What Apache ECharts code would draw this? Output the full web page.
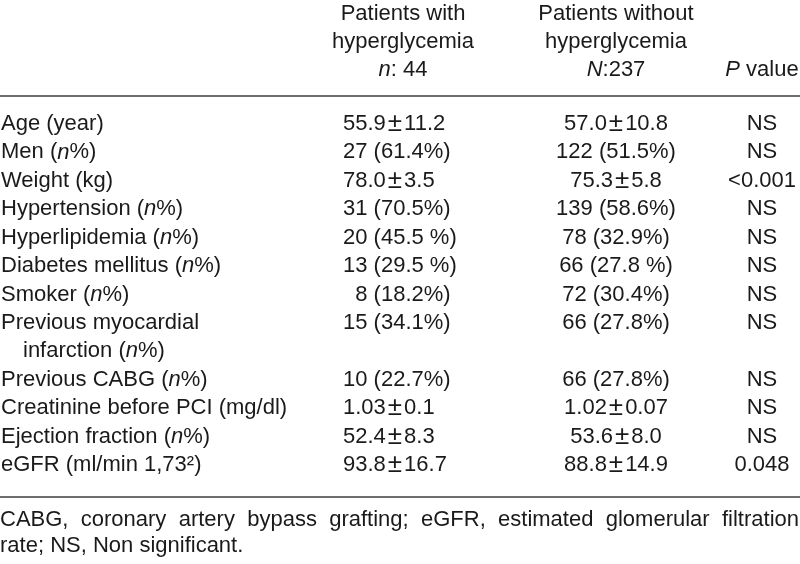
<!DOCTYPE html>
<html><head><meta charset="utf-8">
<script src="https://cdn.jsdelivr.net/npm/echarts@6/dist/echarts.min.js"></script>
<style>html,body{margin:0;padding:0;background:#fff}#c{width:800px;height:564px}</style>
</head><body><div id="c"></div>
<script>
// ---- data ----
const rowLabels = ['Age (year)', 'Men (n%)', 'Weight (kg)', 'Hypertension (n%)', 'Hyperlipidemia (n%)',
  'Diabetes mellitus (n%)', 'Smoker (n%)', 'Previous myocardial', 'infarction (n%)', 'Previous CABG (n%)',
  'Creatinine before PCI (mg/dl)', 'Ejection fraction (n%)', 'eGFR (ml/min 1,73\u00B2)'];
const continuationRows = [8];
const withHyper = ['55.9\u00B111.2', '27 (61.4%)', '78.0\u00B13.5', '31 (70.5%)', '20 (45.5 %)', '13 (29.5 %)',
  '\u20078 (18.2%)', '15 (34.1%)', '', '10 (22.7%)', '1.03\u00B10.1', '52.4\u00B18.3', '93.8\u00B116.7'];
const withoutHyper = ['57.0\u00B110.8', '122 (51.5%)', '75.3\u00B15.8', '139 (58.6%)', '78 (32.9%)', '66 (27.8 %)',
  '72 (30.4%)', '66 (27.8%)', '', '66 (27.8%)', '1.02\u00B10.07', '53.6\u00B18.0', '88.8\u00B114.9'];
const pValues = ['NS', 'NS', '<0.001', 'NS', 'NS', 'NS', 'NS', 'NS', '', 'NS', 'NS', 'NS', '0.048'];
const headerWith = ['Patients with', 'hyperglycemia', 'n: 44'];
const headerWithout = ['Patients without', 'hyperglycemia', 'N:237'];
const headerP = ['', '', 'P value'];
const footLine1 = 'CABG, coronary artery bypass grafting; eGFR, estimated glomerular filtration';
const footLine2 = 'rate; NS, Non significant.';

// ---- layout / style ----
const FONT = '"Liberation Sans", Arial, Helvetica, sans-serif';
const FS = 22, FOOT_FS = 22;
const colX = [1, 343, 616, 762];
const colAlign = ['left', 'left', 'center', 'center'];
const columns = [rowLabels, withHyper, withoutHyper, pValues];
const headerCols = [null, headerWith, headerWithout, headerP];
const headerColX = [0, 403, 616, 762];
const headerY = [14, 42, 70];
const textColor = '#1a1a1a';
const ruleColor = '#6e6e6e';

function toRich(s) {
  return s.replace(/\(n%\)/g, '({i|n}%)')
          .replace(/^([nN]):/, '{i|$1}:')
          .replace(/^P value/, '{i|P} value')
          .replace(/\u00B1/g, '{pm|\u00B1}');
}
const richStyle = {
  i: { fontStyle: 'italic', fontSize: FS, fontFamily: FONT, fill: textColor, color: textColor },
  pm: { fontSize: 26, fontFamily: FONT, fill: textColor, color: textColor, padding: [0, 2, 0, 2] }
};

const cellData = [];
for (let r = 0; r < rowLabels.length; r++) {
  for (let c = 0; c < columns.length; c++) {
    if (columns[c][r] !== '') cellData.push([colX[c], r, c]);
  }
}

const chart = echarts.init(document.getElementById('c'), null, { renderer: 'canvas' });

// justify first footnote line
const ctx = document.createElement('canvas').getContext('2d');
ctx.font = FOOT_FS + 'px ' + FONT;
const words = footLine1.split(' ');
const widths = words.map(w => ctx.measureText(w).width);
const totalW = widths.reduce((a, b) => a + b, 0);
const avail = 799;
const gap = (avail - totalW) / (words.length - 1);
const footGraphics = [];
let fx = 0;
words.forEach((w, i) => {
  footGraphics.push({ type: 'text', x: fx, y: 520, style: { text: w, font: FOOT_FS + 'px ' + FONT, fill: textColor, align: 'left', verticalAlign: 'middle' } });
  fx += widths[i] + gap;
});
footGraphics.push({ type: 'text', x: 0, y: 546, style: { text: footLine2, font: FOOT_FS + 'px ' + FONT, fill: textColor, align: 'left', verticalAlign: 'middle' } });

const headerGraphics = [];
for (let c = 1; c < headerCols.length; c++) {
  headerCols[c].forEach((t, i) => {
    if (!t) return;
    headerGraphics.push({ type: 'text', x: headerColX[c], y: headerY[i],
      style: { text: toRich(t), rich: richStyle, font: FS + 'px ' + FONT, fill: textColor, align: 'center', verticalAlign: 'middle' } });
  });
}

chart.setOption({
  animation: false,
  backgroundColor: '#ffffff',
  grid: { left: 0, right: 0, top: 124, bottom: 99 },
  xAxis: { type: 'value', min: 0, max: 800, show: false },
  yAxis: { type: 'category', data: rowLabels, inverse: true, boundaryGap: false, show: false },
  graphic: [
    { type: 'line', shape: { x1: 0, y1: 96, x2: 800, y2: 96 }, style: { stroke: ruleColor, lineWidth: 2 } },
    { type: 'line', shape: { x1: 0, y1: 497, x2: 800, y2: 497 }, style: { stroke: ruleColor, lineWidth: 2 } }
  ].concat(headerGraphics, footGraphics),
  series: [{
    type: 'custom',
    clip: false,
    data: cellData,
    encode: { x: 0, y: 1 },
    renderItem: function (params, api) {
      const r = api.value(1), c = api.value(2);
      const p = api.coord([api.value(0), r]);
      const indent = (c === 0 && continuationRows.indexOf(r) >= 0) ? 22 : 0;
      return {
        type: 'text',
        x: p[0] + indent, y: p[1],
        style: { text: toRich(columns[c][r]), rich: richStyle, font: FS + 'px ' + FONT, fill: textColor,
          align: colAlign[c], verticalAlign: 'middle' }
      };
    }
  }]
});
</script></body></html>
